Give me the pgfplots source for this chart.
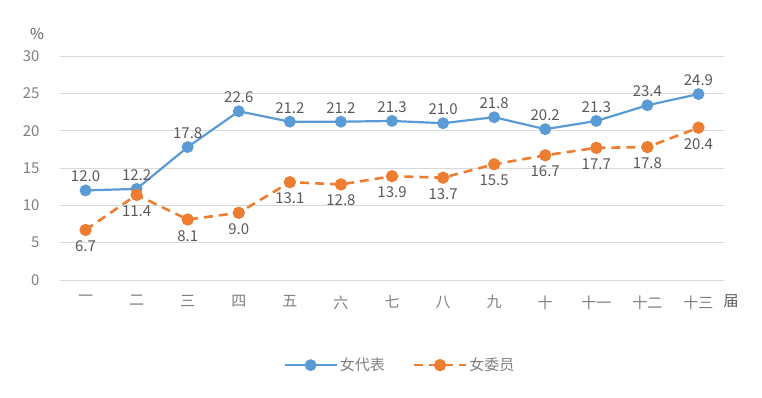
\documentclass[border=0pt]{standalone}
\usepackage{pgfplots}
\pgfplotsset{compat=1.18}
\usepackage{fontspec}
\setmainfont{Noto Sans CJK SC}
\definecolor{cblue}{HTML}{5B9BD5}
\definecolor{corange}{HTML}{ED7D31}
\definecolor{tgray}{HTML}{595959}
\definecolor{lgray}{HTML}{7F7F7F}
\definecolor{ggray}{HTML}{D9D9D9}
\begin{document}
\begin{tikzpicture}[x=1pt,y=1pt]
\path[use as bounding box] (0,0) rectangle (762,398);
\begin{axis}[
  at={(60pt,118pt)}, anchor=south west,
  scale only axis, width=664pt, height=224pt,
  xmin=-0.5, xmax=12.5, ymin=0, ymax=30,
  xtick={0,...,12},
  xticklabels={一,二,三,四,五,六,七,八,九,十,十一,十二,十三},
  ytick={0,5,...,30},
  axis line style={draw=none},
  tick style={draw=none},
  ymajorgrids, major grid style={ggray, line width=0.8pt},
  /pgf/number format/assume math mode=true,
  ticklabel style={font=\fontsize{15}{15}\selectfont, text=lgray},
  yticklabel style={xshift=-17pt},
  xticklabel style={yshift=-12pt},
  legend style={at={(0.512,-0.38)}, anchor=center, draw=none, legend columns=2,
    font=\fontsize{15}{15}\selectfont, text=lgray,
    /tikz/every even column/.append style={column sep=26pt}},
  legend image code/.code={\draw[#1] (0pt,0pt) -- (52pt,0pt); \draw[#1, solid] plot coordinates {(26pt,0pt)};},
  nodes near coords={\pgfmathprintnumber[fixed,fixed zerofill,precision=1,assume math mode=true]{\pgfplotspointmeta}},
  every node near coord/.append style={font=\fontsize{15}{15}\selectfont, text=tgray},
]
\addplot[cblue, line width=2.2pt, mark=*, mark size=4.8pt,
  every node near coord/.append style={anchor=south, yshift=4pt}]
  coordinates {(0,12.0)(1,12.2)(2,17.8)(3,22.6)(4,21.2)(5,21.2)(6,21.3)(7,21.0)(8,21.8)(9,20.2)(10,21.3)(11,23.4)(12,24.9)};
\addlegendentry{女代表}
\addplot[corange, line width=2.6pt, dash pattern=on 9pt off 6pt, mark=*, mark size=4.8pt, mark options={solid},
  every node near coord/.append style={anchor=north, yshift=-6pt}]
  coordinates {(0,6.7)(1,11.4)(2,8.1)(3,9.0)(4,13.1)(5,12.8)(6,13.9)(7,13.7)(8,15.5)(9,16.7)(10,17.7)(11,17.8)(12,20.4)};
\addlegendentry{女委员}
\end{axis}
\node[text=tgray, font=\fontsize{15}{15}\selectfont] at (37,364) {\%};
\node[text=tgray, font=\fontsize{15}{15}\selectfont] at (731,96.5) {届};
\end{tikzpicture}
\end{document}
